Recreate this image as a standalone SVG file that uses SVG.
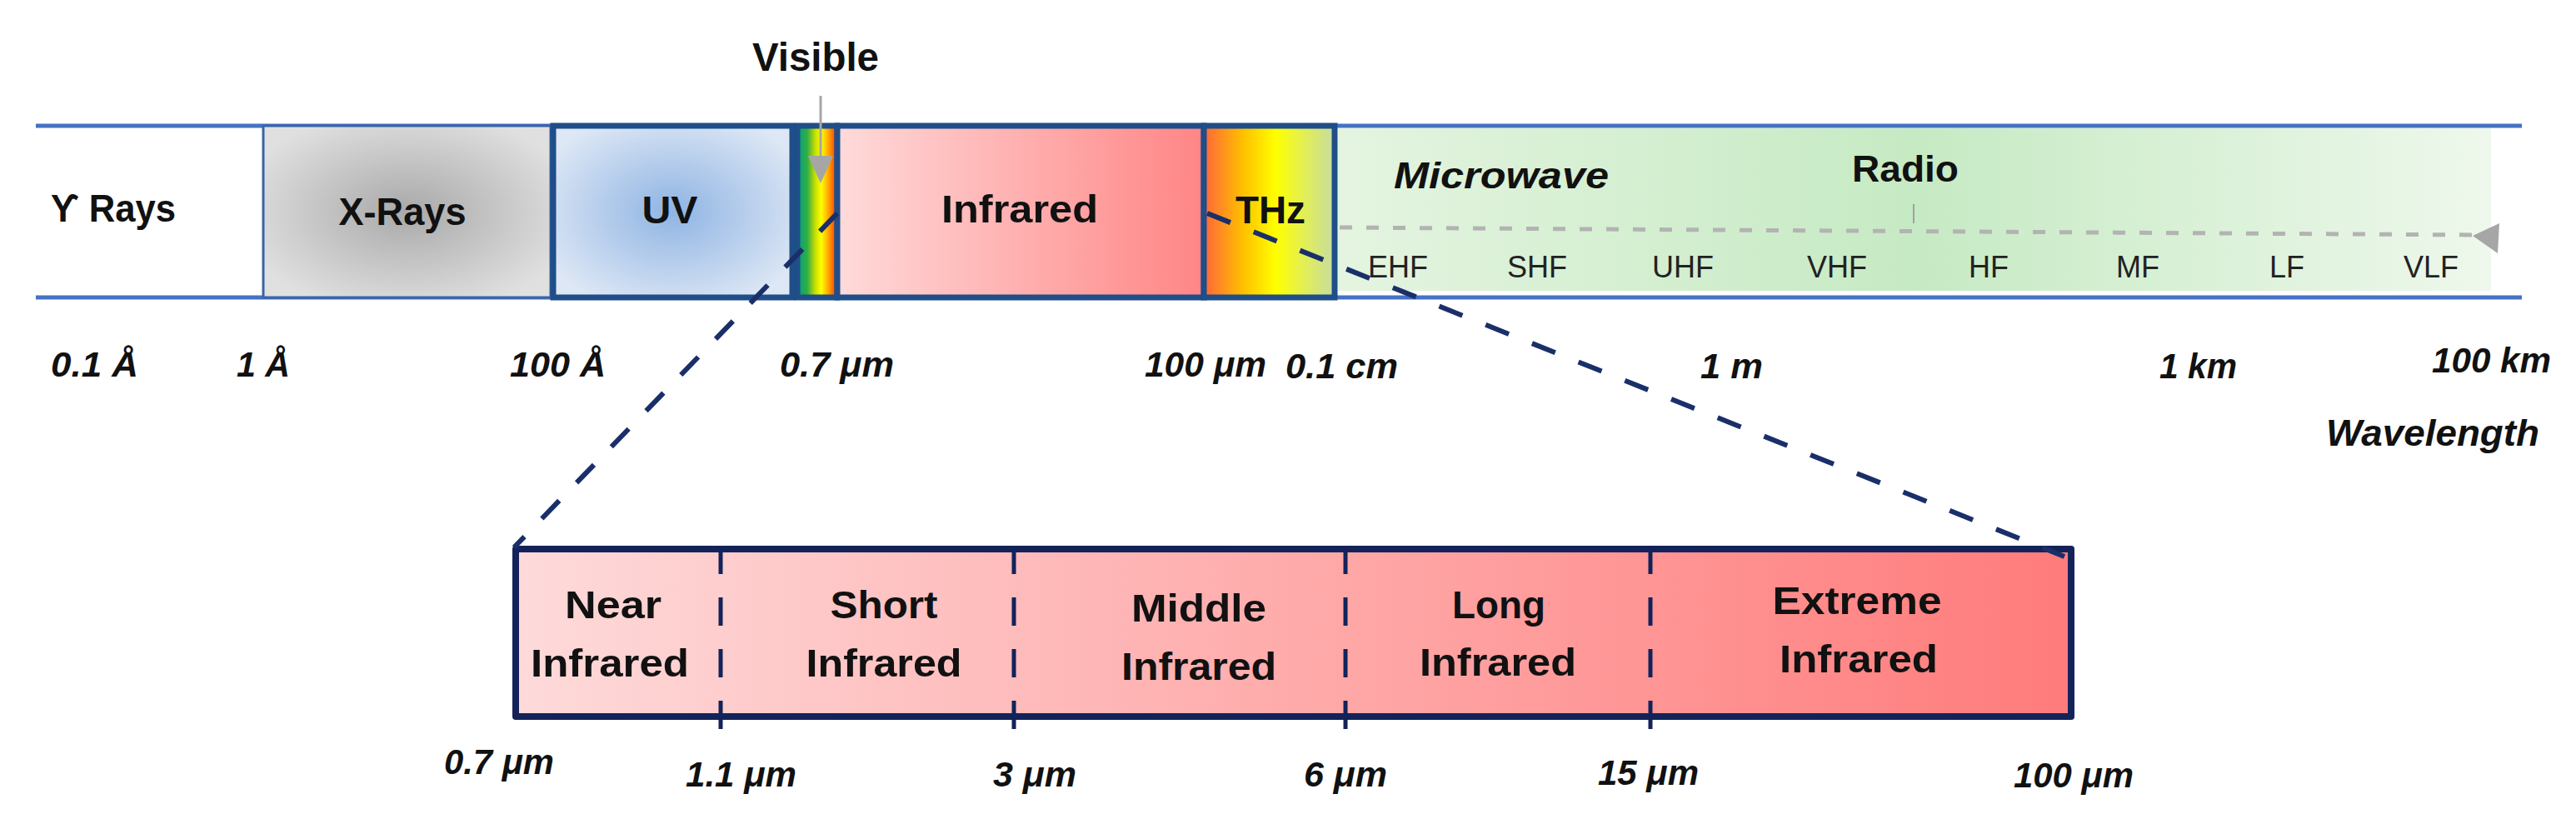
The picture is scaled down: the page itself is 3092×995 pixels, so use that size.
<svg xmlns="http://www.w3.org/2000/svg" width="3092" height="995" viewBox="0 0 3092 995">
<defs>
<radialGradient id="gX" cx="0.5" cy="0.5" r="0.6"><stop offset="0" stop-color="#a9a9a9"/><stop offset="1" stop-color="#e0e0e0"/></radialGradient>
<radialGradient id="gUV" cx="0.5" cy="0.5" r="0.6"><stop offset="0" stop-color="#8fb4e3"/><stop offset="1" stop-color="#dde7f5"/></radialGradient>
<linearGradient id="gVis" x1="0" y1="0" x2="1" y2="0"><stop offset="0" stop-color="#00a080"/><stop offset="0.25" stop-color="#30ae45"/><stop offset="0.45" stop-color="#c8e000"/><stop offset="0.6" stop-color="#ffff00"/><stop offset="0.8" stop-color="#ff9a00"/><stop offset="1" stop-color="#ff2a00"/></linearGradient>
<linearGradient id="gIR" x1="0" y1="0" x2="1" y2="0"><stop offset="0" stop-color="#ffdada"/><stop offset="1" stop-color="#ff8585"/></linearGradient>
<linearGradient id="gTHz" x1="0" y1="0" x2="1" y2="0"><stop offset="0" stop-color="#ff663a"/><stop offset="0.3" stop-color="#ffc000"/><stop offset="0.55" stop-color="#ffff00"/><stop offset="0.75" stop-color="#e4f050"/><stop offset="1" stop-color="#c6dca2"/></linearGradient>
<linearGradient id="gGreen" x1="0" y1="0" x2="1" y2="0"><stop offset="0" stop-color="#e4f4e0"/><stop offset="0.5" stop-color="#c6eac3"/><stop offset="1" stop-color="#eef8ec"/></linearGradient>
<linearGradient id="gZoom" x1="0" y1="0" x2="1" y2="0"><stop offset="0" stop-color="#fedada"/><stop offset="1" stop-color="#ff7b7b"/></linearGradient>
<style>
.lbl{font-family:"Liberation Sans",Arial,sans-serif;font-weight:bold;font-size:46px;fill:#111;text-anchor:middle}
.wl{font-family:"Liberation Sans",Arial,sans-serif;font-weight:bold;font-style:italic;font-size:42px;fill:#111}
.fq{font-family:"Liberation Sans",Arial,sans-serif;font-size:36px;fill:#222;text-anchor:middle}
.band{stroke:#1f4e89;stroke-width:7}
.conn{fill:none;stroke:#1a2f6a;stroke-width:6;stroke-dasharray:30 30}
.div{fill:none;stroke:#13235a;stroke-width:5;stroke-dasharray:34 28}
</style>
</defs>

<g id="axis-lines">
<line x1="43" y1="151" x2="3027" y2="151" stroke="#4472c4" stroke-width="5"/>
<line x1="43" y1="357" x2="3027" y2="357" stroke="#4472c4" stroke-width="5"/>
</g>

<g id="gamma">
<text class="lbl" x="61" y="266" text-anchor="start" style="text-anchor:start" textLength="150" lengthAdjust="spacingAndGlyphs">ϒ Rays</text>
</g>

<g id="xrays">
<rect x="316" y="151" width="345" height="206" fill="url(#gX)" stroke="#3a64a8" stroke-width="3"/>
<text class="lbl" x="483" y="270" textLength="153" lengthAdjust="spacingAndGlyphs">X-Rays</text>
</g>

<g id="uv">
<rect x="664" y="151" width="287" height="206" fill="url(#gUV)" class="band"/>
<text class="lbl" x="804" y="268" textLength="67" lengthAdjust="spacingAndGlyphs">UV</text>
</g>

<g id="visible">
<rect x="957" y="151" width="48" height="206" fill="url(#gVis)" class="band"/>
<text class="lbl" x="979" y="85" font-size="48" style="font-size:48px" textLength="152" lengthAdjust="spacingAndGlyphs">Visible</text>
<line x1="985" y1="115" x2="985" y2="190" stroke="#a6a6a6" stroke-width="3"/>
<polygon points="970,187 1000,187 985,220" fill="#a6a6a6"/>
</g>

<g id="infrared">
<rect x="1005" y="151" width="440" height="206" fill="url(#gIR)" class="band"/>
<text class="lbl" x="1224" y="267" textLength="188" lengthAdjust="spacingAndGlyphs">Infrared</text>
</g>

<g id="thz">
<rect x="1445" y="151" width="157" height="206" fill="url(#gTHz)" class="band"/>
<text class="lbl" x="1525" y="268" textLength="84" lengthAdjust="spacingAndGlyphs">THz</text>
</g>

<g id="radio">
<rect x="1606" y="154" width="1384" height="195" fill="url(#gGreen)"/>
<text class="wl" x="1673" y="226" font-size="44" style="font-size:44px" textLength="258" lengthAdjust="spacingAndGlyphs">Microwave</text>
<text class="lbl" x="2287" y="218" font-size="44" style="font-size:44px" textLength="128" lengthAdjust="spacingAndGlyphs">Radio</text>
<line x1="2297" y1="245" x2="2297" y2="268" stroke="#a0a0a0" stroke-width="2"/>
<line x1="1608" y1="273" x2="2972" y2="282" stroke="#b3b3b3" stroke-width="5" stroke-dasharray="15 17"/>
<polygon points="2968,283 3000,268 2998,304" fill="#a6a6a6"/>
<text class="fq" x="1678" y="333">EHF</text>
<text class="fq" x="1845" y="333">SHF</text>
<text class="fq" x="2020" y="333">UHF</text>
<text class="fq" x="2205" y="333">VHF</text>
<text class="fq" x="2387" y="333">HF</text>
<text class="fq" x="2566" y="333">MF</text>
<text class="fq" x="2745" y="333">LF</text>
<text class="fq" x="2918" y="333">VLF</text>
</g>

<g id="wavelength-scale">
<text class="wl" x="61" y="452" textLength="105" lengthAdjust="spacingAndGlyphs">0.1 Å</text>
<text class="wl" x="284" y="452" textLength="64" lengthAdjust="spacingAndGlyphs">1 Å</text>
<text class="wl" x="612" y="452" textLength="115" lengthAdjust="spacingAndGlyphs">100 Å</text>
<text class="wl" x="936" y="452" textLength="137" lengthAdjust="spacingAndGlyphs">0.7 μm</text>
<text class="wl" x="1374" y="452" textLength="146" lengthAdjust="spacingAndGlyphs">100 μm</text>
<text class="wl" x="1543" y="454" textLength="135" lengthAdjust="spacingAndGlyphs">0.1 cm</text>
<text class="wl" x="2041" y="454" textLength="75" lengthAdjust="spacingAndGlyphs">1 m</text>
<text class="wl" x="2592" y="454" textLength="93" lengthAdjust="spacingAndGlyphs">1 km</text>
<text class="wl" x="2919" y="447" textLength="143" lengthAdjust="spacingAndGlyphs">100 km</text>
<text class="wl" x="2792" y="535" font-size="45" style="font-size:45px" textLength="256" lengthAdjust="spacingAndGlyphs">Wavelength</text>
</g>

<g id="infrared-detail">
<rect x="619" y="659" width="1867" height="201" fill="url(#gZoom)" stroke="#13235a" stroke-width="8" stroke-linejoin="round"/>
<line class="div" x1="865" y1="655" x2="865" y2="880"/>
<line class="div" x1="1217" y1="655" x2="1217" y2="880"/>
<line class="div" x1="1615" y1="655" x2="1615" y2="880"/>
<line class="div" x1="1981" y1="655" x2="1981" y2="880"/>
<text class="lbl" x="736" y="742" textLength="116" lengthAdjust="spacingAndGlyphs">Near</text>
<text class="lbl" x="732" y="812" textLength="190" lengthAdjust="spacingAndGlyphs">Infrared</text>
<text class="lbl" x="1061" y="742" textLength="129" lengthAdjust="spacingAndGlyphs">Short</text>
<text class="lbl" x="1061" y="812" textLength="187" lengthAdjust="spacingAndGlyphs">Infrared</text>
<text class="lbl" x="1439" y="746" textLength="162" lengthAdjust="spacingAndGlyphs">Middle</text>
<text class="lbl" x="1439" y="816" textLength="186" lengthAdjust="spacingAndGlyphs">Infrared</text>
<text class="lbl" x="1799" y="742" textLength="112" lengthAdjust="spacingAndGlyphs">Long</text>
<text class="lbl" x="1798" y="811" textLength="188" lengthAdjust="spacingAndGlyphs">Infrared</text>
<text class="lbl" x="2229" y="737" textLength="203" lengthAdjust="spacingAndGlyphs">Extreme</text>
<text class="lbl" x="2231" y="807" textLength="190" lengthAdjust="spacingAndGlyphs">Infrared</text>
<text class="wl" x="533" y="929" textLength="132" lengthAdjust="spacingAndGlyphs">0.7 μm</text>
<text class="wl" x="823" y="944" textLength="133" lengthAdjust="spacingAndGlyphs">1.1 μm</text>
<text class="wl" x="1192" y="944" textLength="100" lengthAdjust="spacingAndGlyphs">3 μm</text>
<text class="wl" x="1565" y="944" textLength="100" lengthAdjust="spacingAndGlyphs">6 μm</text>
<text class="wl" x="1918" y="942" textLength="121" lengthAdjust="spacingAndGlyphs">15 μm</text>
<text class="wl" x="2417" y="945" textLength="144" lengthAdjust="spacingAndGlyphs">100 μm</text>
</g>

<g id="connectors">
<line class="conn" x1="1005" y1="256" x2="617" y2="657"/>
<line class="conn" x1="1449" y1="256" x2="2478" y2="668"/>
</g>
</svg>
